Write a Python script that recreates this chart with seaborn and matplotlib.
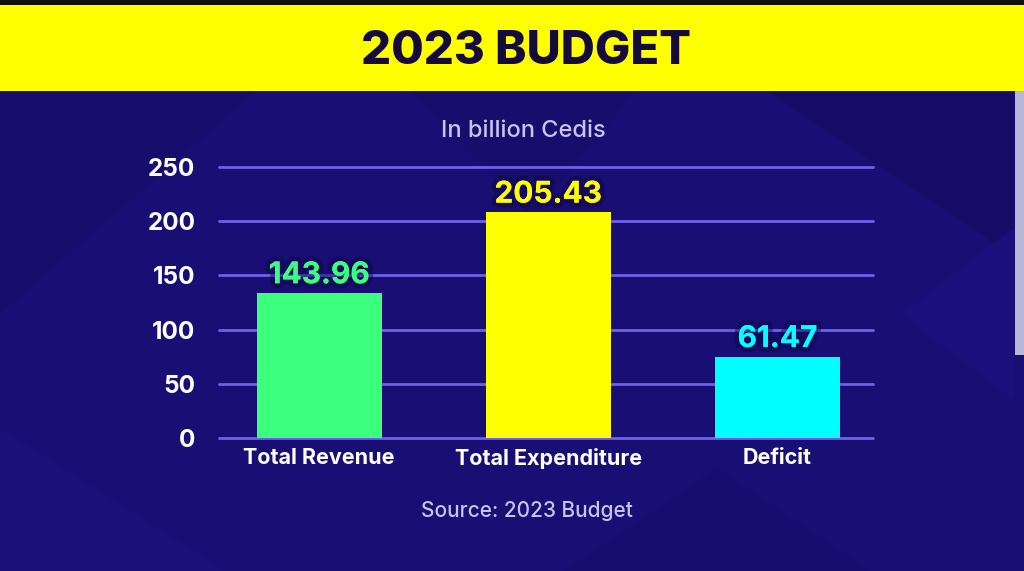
import matplotlib
matplotlib.use("Agg")
import matplotlib.pyplot as plt
import matplotlib.patheffects as pe
from matplotlib.patches import Rectangle, Polygon
import seaborn as sns
import pandas as pd

# ---- data ----
categories = ["Total Revenue", "Total Expenditure", "Deficit"]
bar_heights = [133.8, 208.2, 75.0]          # bar heights as drawn in the picture
value_labels = ["143.96", "205.43", "61.47"]  # printed values
bar_colors = ["#3dff7e", "#ffff00", "#00ffff"]
yticks = [0, 50, 100, 150, 200, 250]
title = "2023 BUDGET"
subtitle = "In billion Cedis"
source = "Source: 2023 Budget"

sns.set_theme(style="white")
plt.rcParams["font.family"] = ["Inter", "DejaVu Sans"]

BG = "#190e74"
fig = plt.figure(figsize=(10.24, 5.71), dpi=100)
fig.patch.set_facecolor(BG)

# subtle background facets
facets = [
    ([(0.0, 0.84), (0.25, 0.84), (0.0, 0.45)], "#170d6c"),
    ([(0.40, 0.84), (0.62, 0.84), (0.52, 0.62)], "#170d6c"),
    ([(0.75, 0.84), (0.99, 0.84), (0.99, 0.55)], "#160c68"),
    ([(0.0, 0.0), (0.22, 0.0), (0.0, 0.25)], "#1b0f7a"),
    ([(0.55, 0.0), (0.85, 0.0), (0.70, 0.18)], "#170d6e"),
    ([(0.88, 0.45), (0.99, 0.30), (0.99, 0.60)], "#1b0f7c"),
]
for pts, c in facets:
    fig.patches.append(Polygon(pts, closed=True, transform=fig.transFigure,
                               facecolor=c, edgecolor="none", zorder=-10))

# top black line and yellow banner
fig.patches.append(Rectangle((0, 1 - 5 / 571), 1, 5 / 571, transform=fig.transFigure,
                             facecolor="#111111", edgecolor="none", zorder=-5))
fig.patches.append(Rectangle((0, 1 - 91 / 571), 1, 86 / 571, transform=fig.transFigure,
                             facecolor="#ffff00", edgecolor="none", zorder=-5))
# scrollbar strip on right
fig.patches.append(Rectangle((1015 / 1024, 1 - 355 / 571), 9 / 1024, 264 / 571,
                             transform=fig.transFigure, facecolor="#b9b6d8",
                             edgecolor="none", zorder=-5))

fig.text(0.514, 1 - 52 / 571, title, ha="center", va="center", fontsize=34,
         fontweight="heavy", color="#150a3c")
fig.text(0.511, 1 - 131 / 571, subtitle, ha="center", va="center", fontsize=17,
         fontweight="medium", color="#c9c3f2")
fig.text(0.515, 1 - 511 / 571, source, ha="center", va="center", fontsize=15,
         fontweight="medium", color="#c9c3f2")

ax = fig.add_axes([219 / 1024, 1 - 438 / 571, (873 - 219) / 1024, (438 - 167) / 571])
ax.set_facecolor("none")

df = pd.DataFrame({"cat": categories, "val": bar_heights})
sns.barplot(data=df, x="cat", y="val", hue="cat", palette=bar_colors,
            width=0.546, saturation=1, legend=False, ax=ax, zorder=3,
            edgecolor="none", linewidth=0)

ax.set_xlim(-0.437, 2.417)
ax.set_ylim(0, 250)
for t in yticks:
    ax.axhline(t, color="#6e60ea", lw=2, zorder=1, clip_on=False)

ax.set_yticks(yticks)
ax.set_yticklabels([str(t) for t in yticks], color="white", fontsize=17.5,
                   fontweight="bold")
ax.tick_params(axis="y", length=0, pad=17)
ax.tick_params(axis="x", length=0, pad=7)
for lbl in ax.get_xticklabels():
    lbl.set_color("white")
    lbl.set_fontsize(15.5)
    lbl.set_fontweight("bold")
ax.set_xlabel("")
ax.set_ylabel("")
for s in ax.spines.values():
    s.set_visible(False)

for patch, lab, col in zip(ax.patches, value_labels, bar_colors):
    x = patch.get_x() + patch.get_width() / 2
    y = patch.get_height()
    ax.annotate(lab, (x, y), xytext=(0, 7), textcoords="offset points",
                ha="center", va="baseline", fontsize=21.5, fontweight="bold",
                color=col, zorder=5,
                path_effects=[pe.withStroke(linewidth=7, foreground="#0d0746",
                                            alpha=0.45), pe.Normal()])

fig.savefig("out.png", dpi=100, facecolor=fig.get_facecolor())
